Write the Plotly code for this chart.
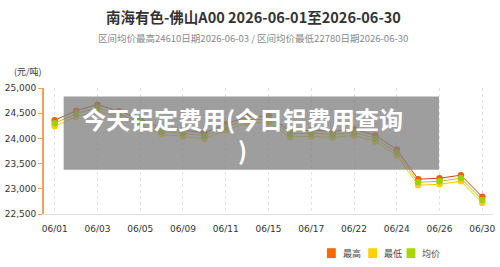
import plotly.graph_objects as go

dates = ["06/01", "06/02", "06/03", "06/04", "06/05", "06/08", "06/09", "06/10", "06/11", "06/12",
         "06/15", "06/16", "06/17", "06/18", "06/22", "06/23", "06/24", "06/25", "06/26", "06/29", "06/30"]
avg_price = [24300, 24490, 24610, 24480, 24330, 24140, 24100, 24050, 24220, 24370,
             24380, 24090, 24100, 24080, 24120, 24000, 23720, 23130, 23150, 23210, 22780]
high_price = [v + 60 for v in avg_price]
low_price = [v - 60 for v in avg_price]
tick_labels = ["06/01", "06/03", "06/05", "06/09", "06/11", "06/15", "06/17", "06/22", "06/24", "06/26", "06/30"]
series_names = ["最高", "最低", "均价"]

W, H = 500, 267
ML, MR, MT, MB = 38, 5, 87.5, 52.5
PW, PH = W - ML - MR, H - MT - MB


def px(x):
    return (x - ML) / PW


def py(y):
    return (H - MB - y) / PH


fig = go.Figure()
styles = [
    (high_price, "#C8401A", "#F06010"),
    (low_price, "#F5C800", "#FFD000"),
    (avg_price, "#A8CC10", "#A0D000"),
]
for (vals, lc, mc), name in zip(styles, series_names):
    fig.add_trace(go.Scatter(
        x=dates, y=vals, mode="lines+markers", name=name, showlegend=False,
        line=dict(color=lc, width=1),
        marker=dict(color=mc, size=6.5, line=dict(width=0)),
    ))

fig.update_xaxes(
    type="category", range=[-0.5, len(dates) - 0.5],
    tickvals=tick_labels, ticktext=tick_labels,
    showgrid=True, gridcolor="#e2e2e2", griddash="dot", gridwidth=1,
    showline=True, linecolor="#e0e0e0", linewidth=1,
    ticks="", ticklabelstandoff=6, tickfont=dict(family="DejaVu Sans", size=9, color="#333"),
    zeroline=False, fixedrange=True,
)
fig.update_yaxes(
    range=[22500, 25000], tickvals=[22500, 23000, 23500, 24000, 24500, 25000],
    tickformat=",", showgrid=False, zeroline=False,
    showline=True, linecolor="#F0A060", linewidth=2,
    ticks="outside", ticklen=4, tickcolor="#F0A060", tickwidth=1,
    tickfont=dict(family="DejaVu Sans", size=9, color="#333"),
)

shapes = []
annotations = []

# title & subtitle
annotations.append(dict(xref="paper", yref="paper", x=px(251), y=py(15), xanchor="center", yanchor="middle",
                        text="<b>南海有色-佛山A00 2026-06-01至2026-06-30</b>", showarrow=False,
                        font=dict(family="Noto Sans CJK SC", size=14.5, color="#333")))
annotations.append(dict(xref="paper", yref="paper", x=px(251), y=py(37), xanchor="center", yanchor="middle",
                        text="区间均价最高24610日期2026-06-03 / 区间均价最低22780日期2026-06-30", showarrow=False,
                        font=dict(family="Noto Sans CJK SC", size=9.5, color="#888")))
annotations.append(dict(xref="paper", yref="paper", x=px(5), y=py(71), xanchor="left", yanchor="middle",
                        text="(元/吨)", showarrow=False,
                        font=dict(family="Noto Sans CJK SC", size=9, color="#333")))

# legend
legend_items = [(series_names[0], "#FF6600", 326), (series_names[1], "#FFD000", 368), (series_names[2], "#A8D800", 407)]
for name, col, x0 in legend_items:
    shapes.append(dict(type="rect", xref="paper", yref="paper", x0=px(x0), x1=px(x0 + 9), y0=py(259), y1=py(249),
                       fillcolor=col, line=dict(width=0)))
    annotations.append(dict(xref="paper", yref="paper", x=px(x0 + 14), y=py(254), xanchor="left", yanchor="middle",
                            text=name, showarrow=False,
                            font=dict(family="Noto Sans CJK SC", size=9, color="#444")))

# overlay banner
shapes.append(dict(type="rect", xref="paper", yref="paper", x0=px(58), x1=px(440), y0=py(170), y1=py(96),
                   fillcolor="rgba(128,128,128,0.76)", line=dict(width=0), layer="above"))
annotations.append(dict(xref="paper", yref="paper", x=px(240), y=py(134), xanchor="center", yanchor="middle",
                        text="<b>今天铝定费用(今日铝费用查询<br>)</b>", showarrow=False,
                        font=dict(family="Noto Sans CJK SC", size=24, color="white")))

fig.update_layout(
    width=W, height=H, margin=dict(l=ML, r=MR, t=MT, b=MB),
    paper_bgcolor="white", plot_bgcolor="white",
    shapes=shapes, annotations=annotations, showlegend=False,
)
fig.write_html("out.html")
